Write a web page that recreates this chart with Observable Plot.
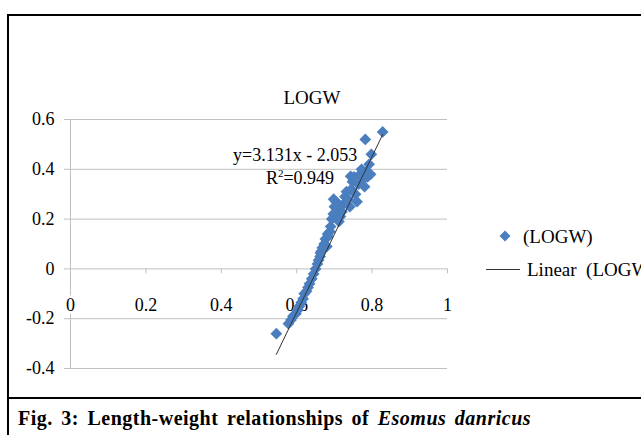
<!DOCTYPE html>
<html><head><meta charset="utf-8">
<script src="https://cdn.jsdelivr.net/npm/d3@7"></script>
<script src="https://cdn.jsdelivr.net/npm/@observablehq/plot@0.6"></script>
<style>
body{margin:0;background:#fff;}
#wrap{position:relative;width:641px;height:435px;overflow:hidden;font-family:"Liberation Serif","Times New Roman",serif;color:#000;}
#wrap svg{position:absolute;left:0;top:0;}
.abs{position:absolute;white-space:nowrap;line-height:1;}
.c{transform:translate(-50%,-50%);}
.m{transform:translate(0,-50%);}
</style></head><body>
<div id="wrap">
  <div class="abs" style="left:7px;top:14px;width:700px;height:381px;border:2px solid #000;"></div>
  <div class="abs" style="left:7px;top:397px;width:2px;height:40px;background:#000"></div>
</div>
<script>
// log length (x) and log weight (y)
const logL = [0.546,0.578,0.585,0.590,0.598,0.603,0.607,0.612,0.617,0.620,0.626,0.630,0.634,0.640,0.645,0.650,0.655,0.658,0.662,0.665,0.668,0.673,0.676,0.680,0.683,0.688,0.690,0.693,0.697,0.700,0.704,0.708,0.712,0.716,0.720,0.724,0.728,0.732,0.737,0.741,0.745,0.748,0.752,0.756,0.760,0.764,0.768,0.772,0.776,0.780,0.784,0.788,0.792,0.796,0.798,0.782,0.828,0.682,0.698,0.711,0.671,0.663,0.743];
const logW = [-0.26,-0.22,-0.205,-0.19,-0.18,-0.165,-0.15,-0.135,-0.12,-0.10,-0.09,-0.075,-0.06,-0.04,-0.02,0.00,0.02,0.035,0.05,0.07,0.085,0.10,0.12,0.09,0.13,0.15,0.17,0.20,0.22,0.25,0.27,0.24,0.19,0.21,0.23,0.26,0.29,0.31,0.28,0.25,0.32,0.35,0.37,0.30,0.27,0.34,0.38,0.40,0.36,0.33,0.39,0.37,0.42,0.38,0.46,0.52,0.55,0.14,0.28,0.26,0.084,0.064,0.372];
const slope = 3.131, intercept = -2.053, r2 = 0.949;
const xTicks = [0,0.2,0.4,0.6,0.8,1];
const xTickLabels = ["0","0.2","0.4","0.6","0.8","1"];
const yTicks = [-0.4,-0.2,0,0.2,0.4,0.6];
const yTickLabels = ["-0.4","-0.2","0","0.2","0.4","0.6"];
const titleText = "LOGW";
const seriesName = "(LOGW)";
const trendName = "Linear&nbsp;&nbsp;(LOGW)";
const captionHTML = 'Fig. 3: Length-weight relationships of <i>Esomus danricus</i>';

const pts = logL.map((x,i)=>({x, y: logW[i]}));
const trend = d3.extent(logL).map(x=>({x, y: slope*x + intercept}));
const blue = "#4a7ebe", grid = "#c0c0c0";

const chart = Plot.plot({
  width:641, height:435,
  marginLeft:70, marginRight:194, marginTop:119, marginBottom:67,
  x:{domain:[0,1], axis:null, label:null},
  y:{domain:[-0.4,0.6], label:null},
  style:{background:"transparent", fontFamily:'"Liberation Serif","Times New Roman",serif', fontSize:"18px", color:"#000"},
  marks:[
    Plot.ruleY(yTicks,{stroke:grid, strokeWidth:1}),
    Plot.ruleX([0],{stroke:grid, strokeWidth:1}),
    Plot.axisY({ticks:yTicks, tickSize:6, stroke:grid, tickFormat:()=>"", label:null}),
    Plot.ruleX(xTicks,{y1:0, y2:0, insetBottom:-5, stroke:grid}),
    Plot.axisY({ticks:yTicks, tickSize:0, tickPadding:16, tickFormat:d=>yTickLabels[yTicks.indexOf(d)], label:null, fill:"#000"}),
    Plot.text(xTicks,{x:d=>d, y:0, dy:36, text:(d,i)=>xTickLabels[i], fill:"#000", stroke:"white", strokeWidth:5, paintOrder:"stroke"}),
    Plot.dot(pts,{x:"x", y:"y", symbol:"diamond2", r:5.3, fill:blue, stroke:"none"}),
    Plot.line(trend,{x:"x", y:"y", stroke:"#333", strokeWidth:1})
  ]
});
const wrap = document.getElementById("wrap");
wrap.appendChild(chart);

function add(html, style, cls){ const d=document.createElement("div"); d.className="abs "+(cls||""); d.setAttribute("style",style); d.innerHTML=html; wrap.appendChild(d); return d; }
add(titleText, "left:312px;top:97px;font-size:19px;", "c");
add(`y=${slope}x - ${Math.abs(intercept)}`, "left:232px;top:155px;font-size:18px;background:#fff;padding:0 1px;", "m");
add(`R<sup style="font-size:11px;vertical-align:7px">2</sup>=${r2}`, "left:300px;top:177px;font-size:18px;", "c");
add(`<svg width="12" height="12" style="display:block"><polygon points="6,0.5 11.5,6 6,11.5 0.5,6" fill="${blue}"/></svg>`, "left:499px;top:230px;");
add(seriesName, "left:523px;top:236px;font-size:19px;", "m");
add("", "left:486px;top:269px;width:34px;height:0;border-top:1px solid #333;");
add(trendName, "left:527px;top:269px;font-size:19px;", "m");
add(captionHTML, "left:18px;top:418px;font-size:20px;font-weight:bold;letter-spacing:0.5px;word-spacing:3px;", "m");
</script>
</body></html>
